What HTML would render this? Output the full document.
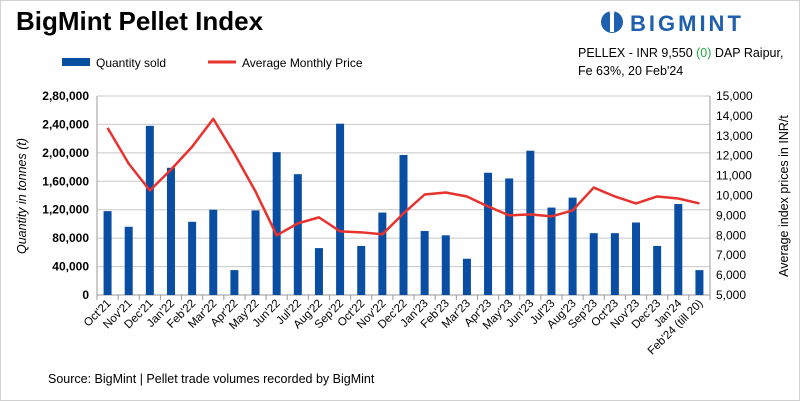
<!DOCTYPE html>
<html><head><meta charset="utf-8"><style>
body{margin:0;width:800px;height:401px;overflow:hidden;background:#fff;font-family:"Liberation Sans",sans-serif}
#frame{position:absolute;left:0;top:0;width:798px;height:399px;border:1px solid #d0d0d0}
</style></head><body>
<div id="frame"></div>
<svg id="c" width="800" height="401" style="position:absolute;left:0;top:0">
<text x="16" y="30" font-size="26" font-weight="bold" fill="#000">BigMint Pellet Index</text>
<g>
<circle cx="612" cy="22" r="11" fill="#1f5fad"/>
<rect x="610" y="14" width="4" height="18" fill="#fff"/><circle cx="612" cy="12" r="2.5" fill="#fff"/>
<text x="630" y="31" font-size="22" font-weight="bold" fill="#1f5fad" letter-spacing="3">BIGMINT</text>
</g>
<text x="578" y="57" font-size="12.5" fill="#000">PELLEX - INR 9,550 <tspan fill="#22aa44">(0)</tspan> DAP Raipur,</text>
<text x="578" y="75" font-size="12.5" fill="#000">Fe 63%, 20 Feb'24</text>
<g>
<rect x="62" y="58" width="28" height="8" fill="#0a4ea3"/>
<text x="96" y="67" font-size="12">Quantity sold</text>
<line x1="208" y1="62" x2="236" y2="62" stroke="#e8322e" stroke-width="3"/>
<text x="242" y="67" font-size="12">Average Monthly Price</text>
</g>
<text transform="translate(26,196) rotate(-90)" text-anchor="middle" font-size="12.5" font-style="italic">Quantity in tonnes (t)</text>
<text transform="translate(788,196) rotate(-90)" text-anchor="middle" font-size="12.5">Average index prices in INR/t</text>
<text x="48" y="383" font-size="12.5">Source: BigMint | Pellet trade volumes recorded by BigMint</text>
<g id="plot"></g>
</svg>
<script>
const categories=["Oct'21","Nov'21","Dec'21","Jan'22","Feb'22","Mar'22","Apr'22","May'22","Jun'22","Jul'22","Aug'22","Sep'22","Oct'22","Nov'22","Dec'22","Jan'23","Feb'23","Mar'23","Apr'23","May'23","Jun'23","Jul'23","Aug'23","Sep'23","Oct'23","Nov'23","Dec'23","Jan'24","Feb'24 (till 20)"];
const quantity=[118000,96000,238000,179000,103000,120000,35000,119000,201000,170000,66000,241000,69000,116000,197000,90000,84000,51000,172000,164000,203000,123000,137000,87000,87000,102000,69000,128000,35000];
const price=[13400,11600,10250,11300,12450,13850,12100,10200,8000,8600,8900,8200,8150,8050,9100,10050,10150,9950,9450,9000,9050,8950,9250,10400,9950,9600,9950,9850,9600];
const leftTicks=[0,40000,80000,120000,160000,200000,240000,280000];
const leftTickLabels=["0","40,000","80,000","1,20,000","1,60,000","2,00,000","2,40,000","2,80,000"];
const rightTicks=[5000,6000,7000,8000,9000,10000,11000,12000,13000,14000,15000];
const rightTickLabels=["5,000","6,000","7,000","8,000","9,000","10,000","11,000","12,000","13,000","14,000","15,000"];
const NS="http://www.w3.org/2000/svg";
const g=document.getElementById('plot');
const X0=97,X1=710,Y0=295,Y1=96;
const step=(X1-X0)/categories.length;
const xc=i=>X0+step*(i+0.5);
const yL=v=>Y0-(v/280000)*(Y0-Y1);
const yR=v=>Y0-((v-5000)/10000)*(Y0-Y1);
function mk(t,a){const e=document.createElementNS(NS,t);for(const k in a)e.setAttribute(k,a[k]);g.appendChild(e);return e;}
leftTicks.forEach((v,i)=>{
 const l=mk('line',{x1:X0,x2:X1,y1:yL(v),y2:yL(v),stroke:i==0?'#999':'#c8c8c8','stroke-width':1});
 
 
 const t=mk('text',{x:X0-8,y:yL(v)+4,'text-anchor':'end','font-size':12,'font-weight':'bold'});
 t.textContent=leftTickLabels[i];
 
 
});
rightTicks.forEach((v,i)=>{
 const t=mk('text',{x:X1+6,y:yR(v)+4,'font-size':12});
 t.textContent=rightTickLabels[i];
 
 
});
const ax=mk('line',{x1:X0,x2:X0,y1:Y1,y2:Y0,stroke:'#999'});


const ax2=mk('line',{x1:X1,x2:X1,y1:Y1,y2:Y0,stroke:'#999'});


for(let i=0;i<=categories.length;i++){
 const tk=mk('line',{x1:X0+step*i,x2:X0+step*i,y1:Y0,y2:Y0+5,stroke:'#999'});
 
 
}
quantity.forEach((v,i)=>{
 const r=mk('rect',{x:xc(i)-4,y:yL(v),width:8,height:Y0-yL(v),fill:'#0a4ea3'});
 
 
});
const p=mk('polyline',{points:price.map((v,i)=>xc(i)+','+yR(v)).join(' '),fill:'none',stroke:'#e8322e','stroke-width':2.5,'stroke-linejoin':'round'});


categories.forEach((c,i)=>{
 const t=mk('text',{transform:`translate(${xc(i)+4},${Y0+9}) rotate(-45)`,'text-anchor':'end','font-size':11.5});
 t.textContent=c;
 
 
});
</script>
</body></html>
